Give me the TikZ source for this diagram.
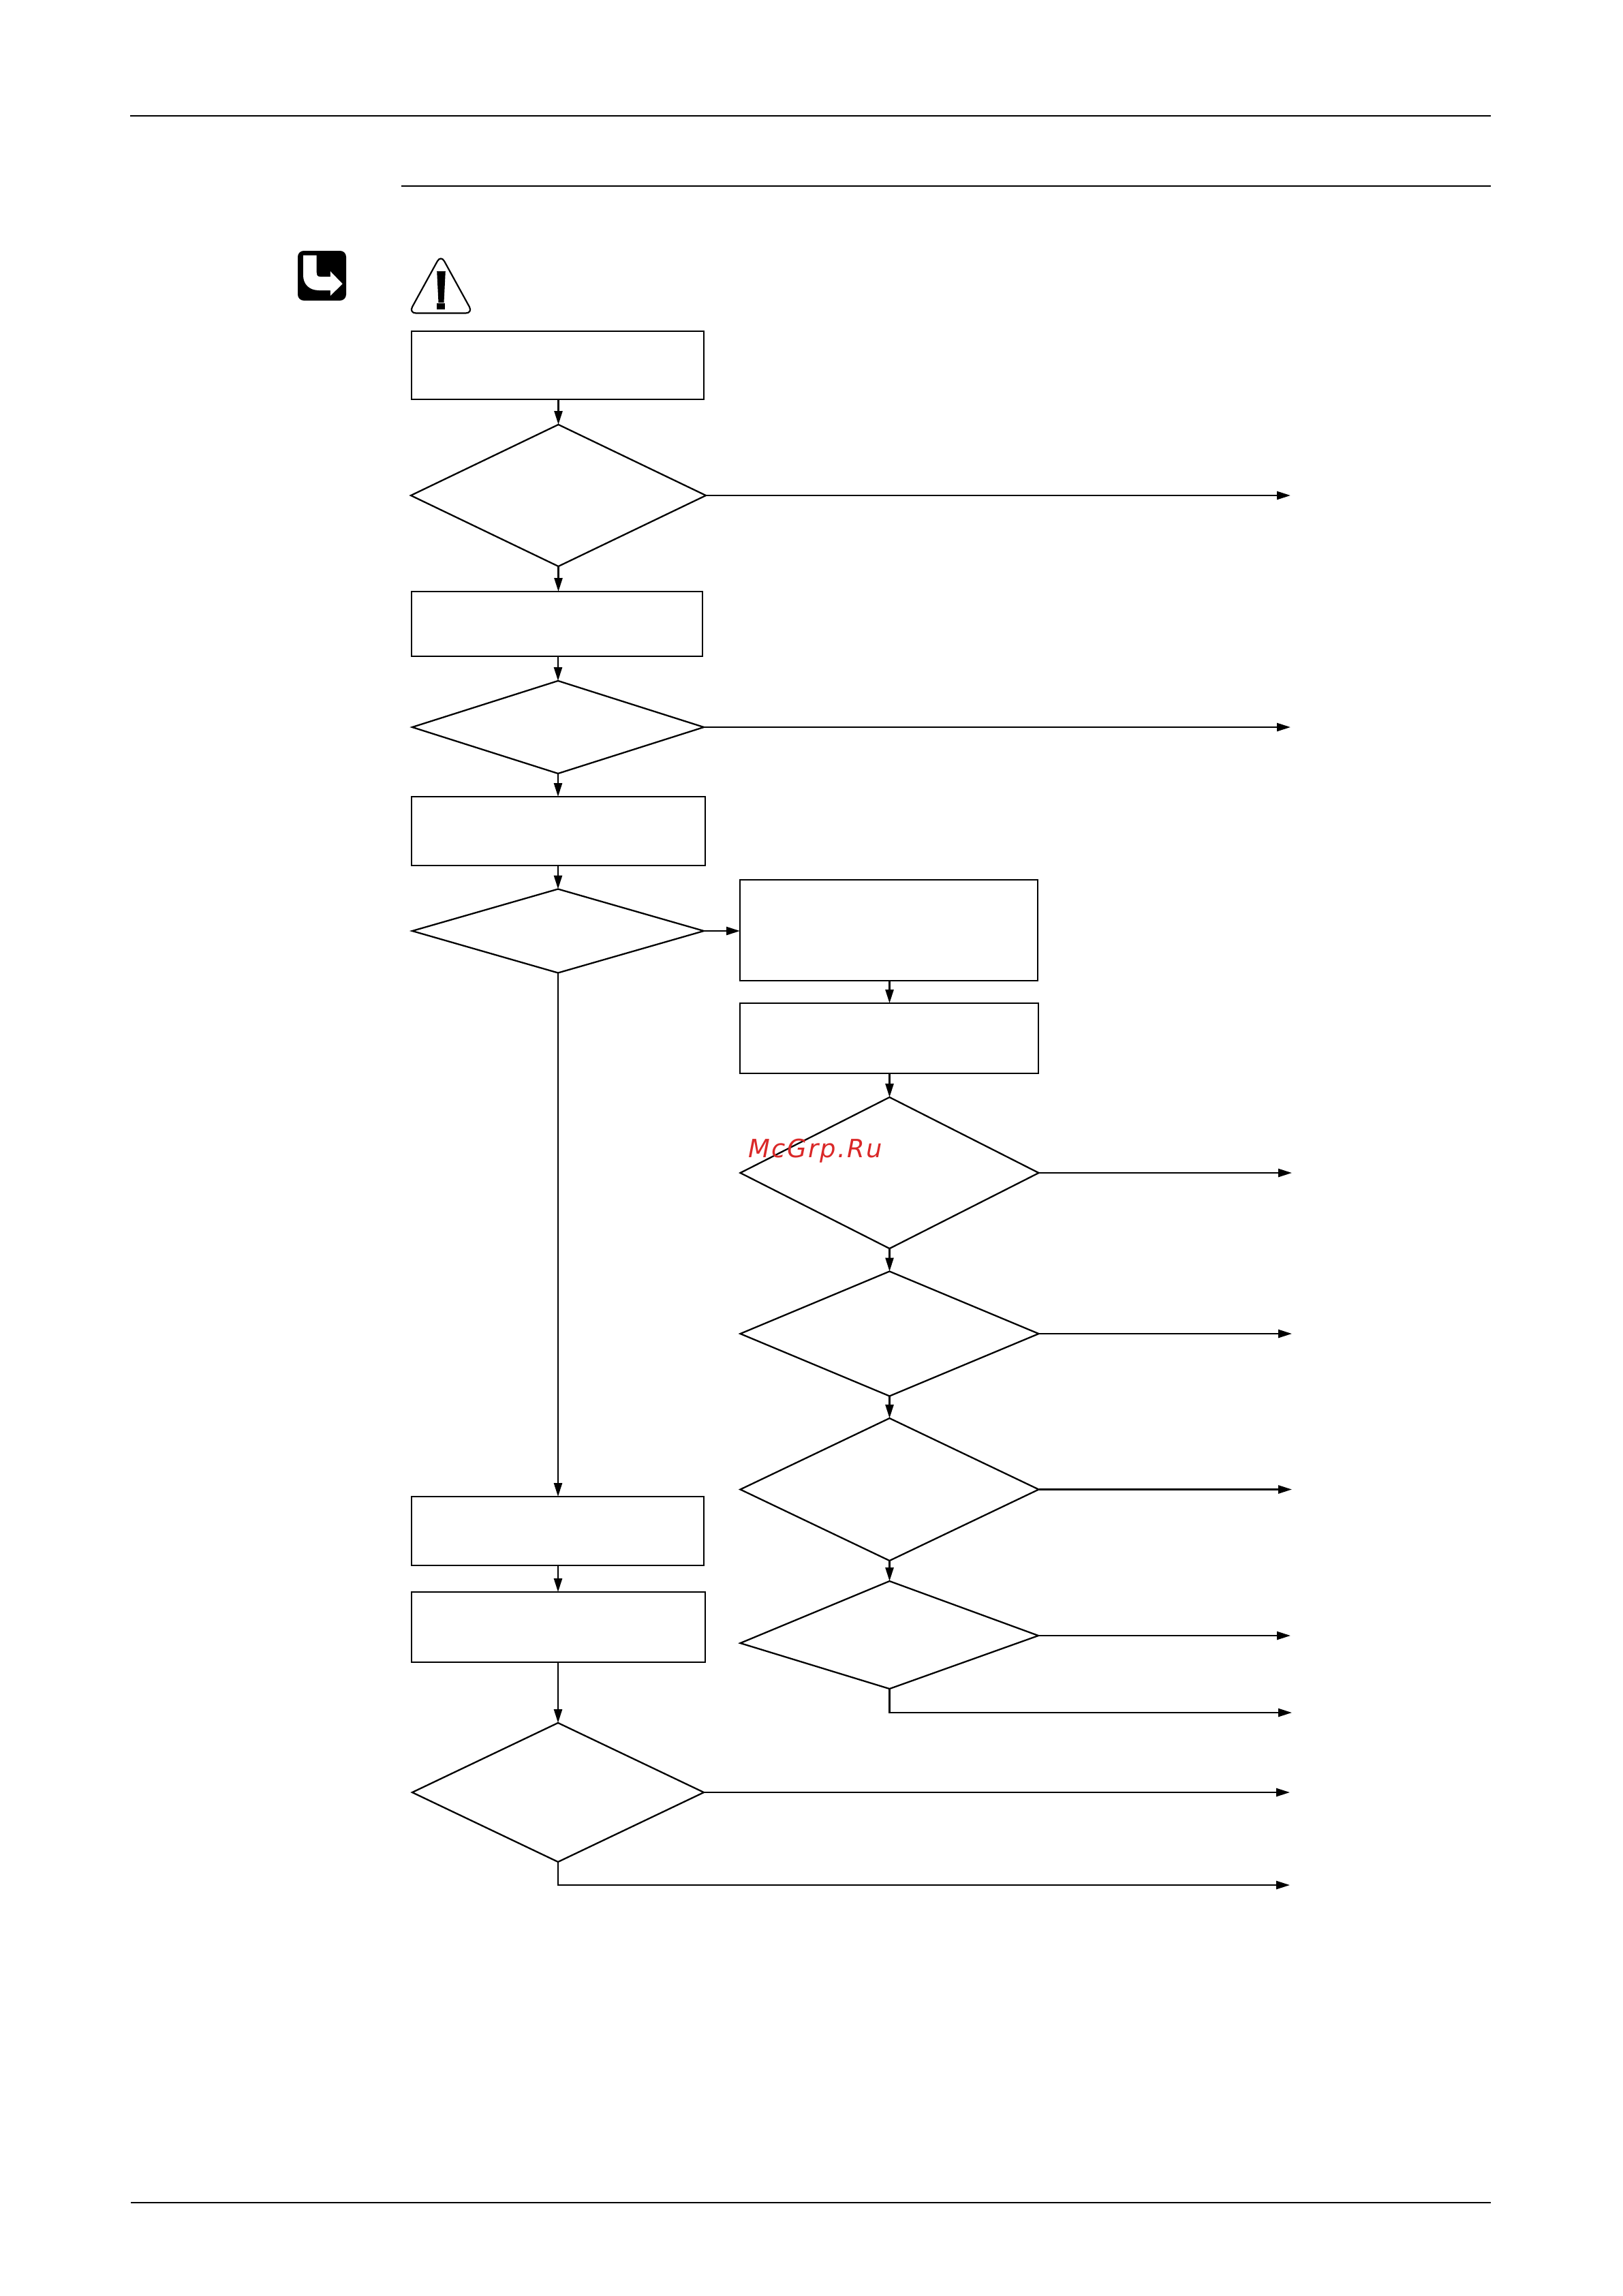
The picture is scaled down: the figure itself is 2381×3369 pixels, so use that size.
\documentclass[tikz,border=0pt]{standalone}
\usepackage{fontspec}
\newfontfamily\wmfont[LetterSpace=6.5]{DejaVu Sans}
\usetikzlibrary{arrows.meta,shapes.geometric}
\definecolor{wmred}{RGB}{218,40,40}
\tikzset{
  flowline/.style={line width=1.4pt},
  flowarrow/.style={flowline,-{Triangle[length=11.3pt,width=6.8pt]}},
  procbox/.style={draw,line width=1.45pt,rectangle,inner sep=0pt,outer sep=0pt},
  decbox/.style={draw,line width=1.3pt,diamond,inner sep=0pt,outer sep=0pt,miter limit=10},
  rule/.style={line width=1.45pt},
  watermark/.style={text=wmred,inner sep=0pt,anchor=base west,font=\wmfont\itshape\fontsize{21}{21}\selectfont}
}
\newcommand{\procat}[5]{\node[procbox,minimum width={(#4-#2)*0.02cm},minimum height={(#5-#3)*0.02cm}] (#1) at ({(#2+#4)/2},{(#3+#5)/2}) {};}
% name, left, right, centre y, half height
\newcommand{\decat}[5]{\pgfmathsetmacro\myasp{(#3-#2)/(2*#5)}\node[decbox,shape aspect=\myasp,minimum width={(#3-#2)*0.02cm},minimum height={2*#5*0.02cm}] (#1) at ({(#2+#3)/2},#4) {};}
\begin{document}
\begin{tikzpicture}[x=0.02cm,y=-0.02cm]
\useasboundingbox[fill=white] (0,0) rectangle (2381,3369);
% page rules
\coordinate (ruleAa) at (191,170); \coordinate (ruleAb) at (2188,170);
\coordinate (ruleBa) at (589,273); \coordinate (ruleBb) at (2188,273);
\coordinate (ruleCa) at (192,3232); \coordinate (ruleCb) at (2188,3232);
\draw[rule] (ruleAa) -- (ruleAb);
\draw[rule] (ruleBa) -- (ruleBb);
\draw[rule] (ruleCa) -- (ruleCb);
% procedure icon
\fill[black,rounded corners=5pt] (437,368) rectangle (508,441);
\fill[white] (445,374.5) -- (464.7,374.5) -- (464.7,400)
  .. controls (464.7,404) and (466,406) .. (470,406)
  -- (484.8,406) -- (484.8,398) -- (502.7,416.5) -- (484.8,434) -- (484.8,426) -- (468,426)
  .. controls (454,426) and (445,417) .. (445,404) -- cycle;
% warning sign
\draw[line width=1.25pt,rounded corners=6pt,line join=round] (647,374) -- (694,459.5) -- (600,459.5) -- cycle;
\fill[black] (641.2,398) -- (653.8,398) -- (651.5,444) -- (643.5,444) -- cycle;
\fill[black] (641.2,445) rectangle (653,454);
% left column
\procat{boxA}{604}{486}{1033}{586}
\decat{decA}{603}{1036}{727}{104}
\procat{boxB}{604}{868}{1031}{963}
\decat{decB}{605}{1033}{1067}{68}
\procat{boxC}{604}{1169}{1035}{1270}
\decat{decC}{605}{1033}{1366}{61.5}
\procat{boxD}{604}{2196}{1033}{2297}
\procat{boxE}{604}{2336}{1035}{2439}
\decat{decD}{605}{1033}{2630}{102}
% right column
\procat{boxF}{1086}{1291}{1523}{1439}
\procat{boxG}{1086}{1472}{1524}{1575}
\decat{decE}{1086.5}{1524.5}{1721}{111}
\decat{decF}{1086.5}{1524.5}{1957}{91.5}
\decat{decG}{1086.5}{1524.5}{2185.5}{104.5}
% skewed decision
\coordinate (decHn) at (1305.5,2320);
\coordinate (decHe) at (1524,2400);
\coordinate (decHs) at (1305.5,2478);
\coordinate (decHw) at (1086.5,2411);
\draw[line width=1.3pt,miter limit=10] (decHn) -- (decHe) -- (decHs) -- (decHw) -- cycle;
% free ends
\coordinate (outA) at (1894,727);
\coordinate (outB) at (1894,1067);
\coordinate (outE) at (1896,1722);
\coordinate (outF) at (1896,1958);
\coordinate (outG) at (1896,2186.5);
\coordinate (outH) at (1894,2400);
\coordinate (outI) at (1896,2513);
\coordinate (outD) at (1893,2631);
\coordinate (outJ) at (1893,2766);
% connectors
\draw[flowarrow] (decA.north |- boxA.south) -- (decA.north);
\draw[flowarrow] (decA.south) -- (decA.south |- boxB.north);
\draw[flowarrow] (decB.north |- boxB.south) -- (decB.north);
\draw[flowarrow] (decB.south) -- (decB.south |- boxC.north);
\draw[flowarrow] (decC.north |- boxC.south) -- (decC.north);
\draw[flowarrow] (decC.south) -- (decC.south |- boxD.north);
\draw[flowarrow] (decC.south |- boxD.south) -- (decC.south |- boxE.north);
\draw[flowarrow] (decD.north |- boxE.south) -- (decD.north);
\draw[flowarrow] (decC.east) -- (decC.east -| boxF.west);
\draw[flowarrow] (decE.north |- boxF.south) -- (decE.north |- boxG.north);
\draw[flowarrow] (decE.north |- boxG.south) -- (decE.north);
\draw[flowarrow] (decE.south) -- (decF.north);
\draw[flowarrow] (decF.south) -- (decG.north);
\draw[flowarrow] (decG.south) -- (decHn);
\draw[flowarrow] (decA.east) -- (decA.east -| outA);
\draw[flowarrow] (decB.east) -- (decB.east -| outB);
\draw[flowarrow] (decE.east) -- (decE.east -| outE);
\draw[flowarrow] (decF.east) -- (decF.east -| outF);
\draw[flowarrow] (decG.east) -- (decG.east -| outG);
\draw[flowarrow] (decHe) -- (outH);
\draw[flowarrow] (decHs) |- (outI);
\draw[flowarrow] (decD.east) -- (decD.east -| outD);
\draw[flowarrow] (decD.south) |- (outJ);
% watermark
\node[watermark] (wm) at (1098,1698) {McGrp.Ru};
\end{tikzpicture}
\end{document}
